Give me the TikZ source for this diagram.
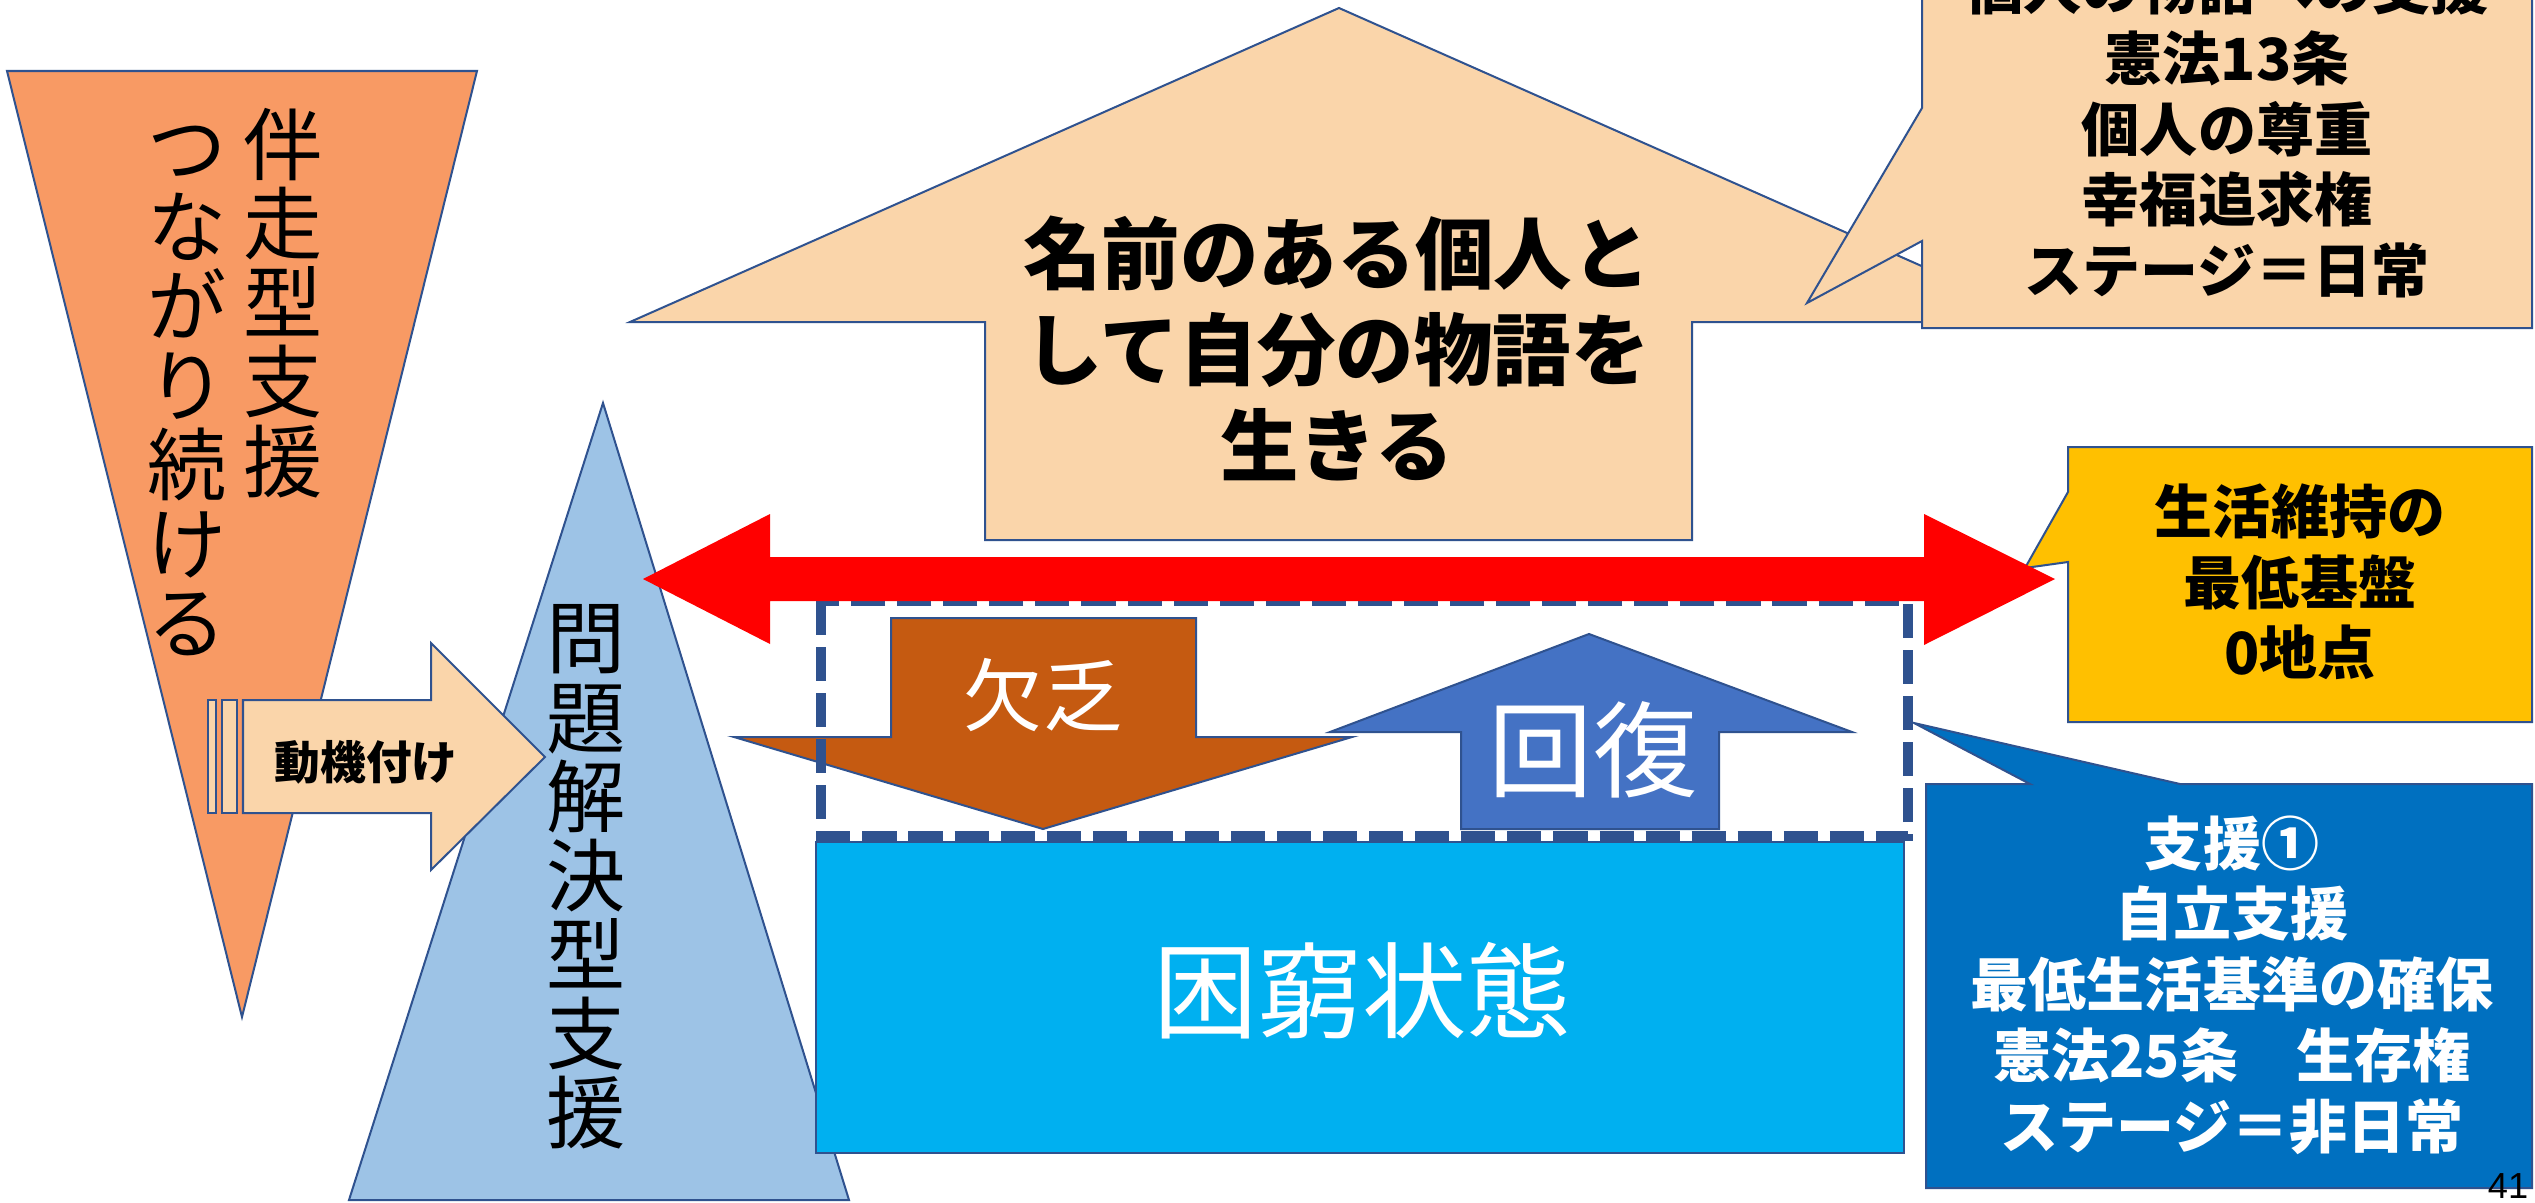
\documentclass[tikz,border=0pt]{standalone}
\usepackage{fontspec}
\setmainfont{Noto Sans CJK JP}
\newfontfamily\numfont{Liberation Sans}
\definecolor{olc}{HTML}{2F528F}
\definecolor{orng}{HTML}{F89A64}
\definecolor{peach}{HTML}{FAD5AA}
\definecolor{ltblue}{HTML}{9DC3E6}
\definecolor{gold}{HTML}{FFC000}
\definecolor{calblue}{HTML}{0070C0}
\definecolor{cyanbox}{HTML}{00B0F0}
\definecolor{cBrown}{HTML}{C55A11}
\definecolor{upblue}{HTML}{4472C4}
\tikzset{
  shp/.style={draw=olc, line width=0.57pt, line join=miter},
  vtext/.style={inner sep=0pt, align=center, text=black,
    font={\fontsize{22.5}{22.5}\selectfont\lineskiplimit=-100pt}},
  bigtxt/.style={inner sep=0pt, align=center, text=black,
    font={\bfseries\fontsize{22.3}{27.3}\selectfont\lineskiplimit=-100pt}},
  caltxt/.style={inner sep=0pt, align=center,
    font={\bfseries\fontsize{16.5}{20.1}\selectfont\lineskiplimit=-100pt}},
  wtxt/.style={inner sep=0pt, text=white},
}
\begin{document}
\begin{tikzpicture}[x=0.01cm, y=-0.01cm]
\useasboundingbox (0,0) rectangle (2535,1203);
\clip (0,0) rectangle (2535,1203);
\fill[white] (0,0) rectangle (2535,1203);

% orange inverted triangle
\draw[shp, fill=orng] (7,71) -- (477,71) -- (242,1017) -- cycle;
\node[vtext] (bansou) at (283.5,303) {伴\\走\\型\\支\\援};
\node[vtext] (tsunagari) at (187,391) {つ\\な\\が\\り\\続\\け\\る};

% blue triangle
\draw[shp, fill=ltblue] (603,403) -- (849,1200) -- (349,1200) -- cycle;
\node[vtext] (mondai) at (586,877) {問\\題\\解\\決\\型\\支\\援};

% striped arrow
\draw[shp, fill=peach] (208,700) rectangle (216,813);
\draw[shp, fill=peach] (222,700) rectangle (237,813);
\draw[shp, fill=peach] (243,700) -- (431,700) -- (431,643) -- (545,757) -- (431,870) -- (431,813) -- (243,813) -- cycle;
\node[inner sep=0pt, font={\bfseries\fontsize{13}{13}\selectfont}] (douki) at (366,762) {動機付け};

% big up arrow
\draw[shp, fill=peach] (1339,8) -- (2048,322) -- (1692,322) -- (1692,540) -- (985,540) -- (985,322) -- (630,322) -- cycle;
\node[bigtxt] (story) at (1337,348) {名前のある個人と\\して自分の物語を\\生きる};

% top callout
\draw[shp, fill=peach] (1922,-60) -- (2532,-60) -- (2532,328) -- (1922,328) -- (1922,241) -- (1807,303) -- (1922,108) -- cycle;
\node[caltxt, text=black] (kojin) at (2227,129) {個人の物語への支援\\憲法13条\\個人の尊重\\幸福追求権\\ステージ＝日常};

% yellow callout
\draw[shp, fill=gold] (2068,447) -- (2532,447) -- (2532,722) -- (2068,722) -- (2068,562) -- (2025,568) -- (2068,492) -- cycle;
\node[caltxt, text=black] (kiban) at (2300,582) {生活維持の\\最低基盤\\0地点};

% blue callout
\draw[shp, fill=calblue] (1926,784) -- (2030,784) -- (1914,723) -- (2180,784) -- (2532,784) -- (2532,1188) -- (1926,1188) -- cycle;
\node[caltxt, text=white] (shien) at (2232,985) {支援①\\自立支援\\最低生活基準の確保\\憲法25条　生存権\\ステージ＝非日常};

% cyan rectangle
\draw[shp, fill=cyanbox] (816,842) rectangle (1904,1153);
\node[wtxt, font={\fontsize{29.7}{29.7}\selectfont}] (konkyu) at (1362,991) {困窮状態};

% brown down arrow
\draw[shp, fill=cBrown] (891,618) -- (1196,618) -- (1196,737) -- (1352,737) -- (1043,829) -- (734,737) -- (891,737) -- cycle;
\node[wtxt, font={\fontsize{22.5}{22.5}\selectfont}] (ketsubo) at (1043,695) {欠乏};

% blue up arrow
\draw[shp, fill=upblue] (1589,634) -- (1852,732) -- (1719,732) -- (1719,829) -- (1461,829) -- (1461,732) -- (1330,732) -- cycle;
\node[wtxt, font={\fontsize{29.7}{29.7}\selectfont}] (kaifuku) at (1593,750) {回復};

% dashed box
\draw[draw=olc, line width=3.1pt, dash pattern=on 9.7pt off 3.4pt] (821,601) rectangle (1908,836);

% red double arrow
\fill[red] (643,579) -- (770,514) -- (770,557) -- (1924,557) -- (1924,514) -- (2055,579) -- (1924,645) -- (1924,601) -- (770,601) -- (770,644) -- cycle;

% page number
\node[inner sep=0pt, font={\numfont\fontsize{10.3}{10.3}\selectfont}] (pagenum) at (2508,1186) {41};
\end{tikzpicture}
\end{document}
